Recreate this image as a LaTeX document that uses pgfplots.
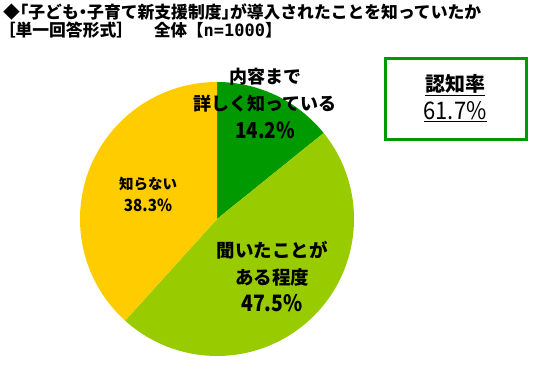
\documentclass[border=0pt]{standalone}
\usepackage{pgfplots}
\pgfplotsset{compat=1.18}
\usepackage{pgfplotstable}
\usepackage{fontspec}
\setmainfont{Noto Sans CJK JP}
\newfontfamily\monofont{DejaVu Sans Mono}
\newcommand\hw[1]{{\addfontfeature{RawFeature=+halt}#1}}
\definecolor{cA}{HTML}{009900}
\definecolor{cB}{HTML}{99CC00}
\definecolor{cC}{HTML}{FFCC00}

\pgfplotstableread{
idx value
1 14.2
2 47.5
3 38.3
}\piedata

\begin{document}
\begin{tikzpicture}
\path[use as bounding box] (0,0) rectangle (545bp,-389bp);
\pgfplotstablegetelem{0}{value}\of\piedata \pgfmathsetmacro\va{\pgfplotsretval}
\pgfplotstablegetelem{1}{value}\of\piedata \pgfmathsetmacro\vb{\pgfplotsretval}
\pgfplotstablegetelem{2}{value}\of\piedata \pgfmathsetmacro\vc{\pgfplotsretval}
\pgfmathsetmacro\aA{90}
\pgfmathsetmacro\aB{\aA-3.6*\va}
\pgfmathsetmacro\aC{\aB-3.6*\vb}
\pgfmathsetmacro\aD{\aC-3.6*\vc}
\begin{axis}[at={(217bp,-219bp)}, anchor=center, width=274bp, height=274bp,
  scale only axis, xmin=-1, xmax=1, ymin=-1, ymax=1, axis lines=none, clip=false]
\fill[cA] (axis cs:0,0) -- (axis cs:{cos(\aA)},{sin(\aA)}) arc[start angle=\aA, end angle=\aB, radius=137bp] -- cycle;
\fill[cB] (axis cs:0,0) -- (axis cs:{cos(\aB)},{sin(\aB)}) arc[start angle=\aB, end angle=\aC, radius=137bp] -- cycle;
\fill[cC] (axis cs:0,0) -- (axis cs:{cos(\aC)},{sin(\aC)}) arc[start angle=\aC, end angle=\aD, radius=137bp] -- cycle;
\end{axis}

\node[anchor=west, inner sep=0pt, font=\bfseries\fontsize{16.8bp}{16.8bp}\selectfont] at (3bp,-12bp) {◆\hw{「}子ども\hw{・}子育て新支援制度\hw{」}が導入されたことを知っていたか};
\node[anchor=west, inner sep=0pt, font=\bfseries\fontsize{16.8bp}{16.8bp}\selectfont] at (7bp,-30bp) {\hw{［}単一回答形式\hw{］}};
\node[anchor=west, inner sep=0pt, font=\bfseries\fontsize{16.5bp}{16.5bp}\selectfont] at (154bp,-30bp) {全体【{\monofont\bfseries\fontsize{17bp}{17bp}\selectfont n=1000}】};

\node[align=center, inner sep=0pt, font=\bfseries\fontsize{18bp}{27.5bp}\selectfont] at (265bp,-103bp) {内容まで\\詳しく知っている\\\scalebox{1.05}[1.22]{14.2\%}};
\node[align=center, inner sep=0pt, font=\bfseries\fontsize{18.5bp}{27bp}\selectfont] at (272bp,-277bp) {聞いたことが\\ある程度\\\scalebox{1.05}[1.22]{47.5\%}};
\node[align=center, inner sep=0pt, font=\bfseries\fontsize{14.5bp}{22bp}\selectfont] at (148bp,-194bp) {知らない\\\scalebox{1.05}[1.15]{38.3\%}};

\draw[cA, line width=3bp] (385bp,-58bp) rectangle (526bp,-139bp);
\node[inner sep=0pt, font=\bfseries\fontsize{20bp}{20bp}\selectfont] at (455bp,-85bp) {\underline{認知率}};
\node[inner sep=0pt, font=\fontsize{22bp}{22bp}\selectfont] at (455bp,-112bp) {\underline{\scalebox{1}[1.1]{61.7\%}}};
\end{tikzpicture}
\end{document}
